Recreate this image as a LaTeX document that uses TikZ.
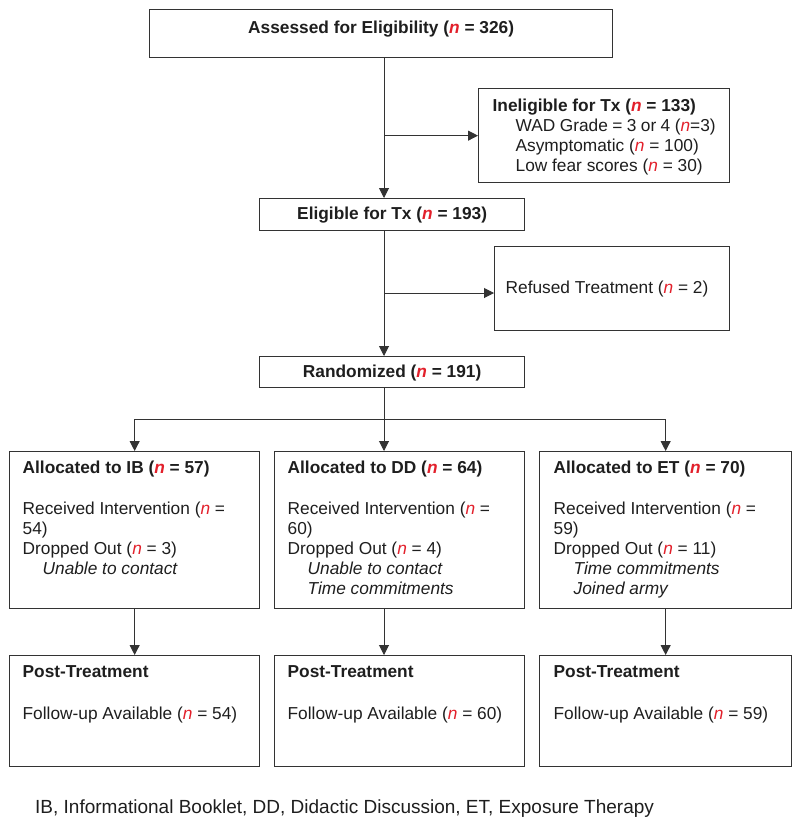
\documentclass[tikz,border=0pt]{standalone}
\usepackage{fontspec}
\setmainfont{Liberation Sans}
\usepackage{xcolor}
\usetikzlibrary{arrows.meta, positioning}

\definecolor{linegray}{HTML}{333333}
\definecolor{textgray}{HTML}{1E1E1E}
\definecolor{nred}{HTML}{E2202B}
\newcommand{\nn}{\textcolor{nred}{\textit{n}}}
% box text: width, height, gap above the first line, body
\newcommand{\boxbody}[4]{\begin{minipage}[c][#2][t]{#1}\vspace*{#3}#4\end{minipage}}

\tikzset{
  flowbox/.style={draw=linegray, line width=1.3pt, anchor=north west, inner ysep=0pt, text=textgray},
  flowarrow/.style={draw=linegray, line width=1pt, -{Triangle[length=10pt, width=10pt]}},
  flowline/.style={draw=linegray, line width=1pt}
}

\begin{document}
\begin{tikzpicture}[x=1pt, y=-1pt, font=\fontsize{17.3}{20}\selectfont]
  \useasboundingbox (0,0) rectangle (800,827);

  % screening
  \node[flowbox, inner xsep=10pt] (assessed) at (149,9)
    {\boxbody{443pt}{48pt}{11.7pt}{\centering\textbf{Assessed for Eligibility (\nn{} = 326)}}};
  \node[flowbox, inner xsep=14pt] (ineligible) at (478,88)
    {\boxbody{223pt}{94pt}{10.1pt}{\textbf{Ineligible for Tx (\nn{} = 133)}\\[0.7pt]
      \hspace*{23pt}WAD Grade = 3 or 4 (\nn{}=3)\\
      \hspace*{23pt}Asymptomatic (\nn{} = 100)\\
      \hspace*{23pt}Low fear scores (\nn{} = 30)}};
  \node[flowbox, inner xsep=10pt] (eligible) at (259,198)
    {\boxbody{245pt}{32pt}{8.7pt}{\centering\textbf{Eligible for Tx (\nn{} = 193)}}};
  \node[flowbox, inner xsep=11pt] (refused) at (494,246)
    {\boxbody{213pt}{84pt}{34.7pt}{Refused Treatment (\nn{} = 2)}};
  \node[flowbox, inner xsep=10pt] (randomized) at (259,356)
    {\boxbody{245pt}{31pt}{8.7pt}{\centering\textbf{Randomized (\nn{} = 191)}}};

  % allocation
  \node[flowbox, inner xsep=13pt] (allocIB) at (9,451)
    {\boxbody{224pt}{157pt}{9.7pt}{\textbf{Allocated to IB (\nn{} = 57)}\\[21pt]
      Received Intervention (\nn{} =\\ 54)\\
      Dropped Out (\nn{} = 3)\\
      \hspace*{20pt}\textit{Unable to contact}}};
  \node[flowbox, inner xsep=13pt] (allocDD) at (274,451)
    {\boxbody{224pt}{157pt}{9.7pt}{\textbf{Allocated to DD (\nn{} = 64)}\\[21pt]
      Received Intervention (\nn{} =\\ 60)\\
      Dropped Out (\nn{} = 4)\\
      \hspace*{20pt}\textit{Unable to contact}\\
      \hspace*{20pt}\textit{Time commitments}}};
  \node[flowbox, inner xsep=14pt] (allocET) at (539,451)
    {\boxbody{224pt}{157pt}{9.7pt}{\textbf{Allocated to ET (\nn{} = 70)}\\[21pt]
      Received Intervention (\nn{} =\\ 59)\\
      Dropped Out (\nn{} = 11)\\
      \hspace*{20pt}\textit{Time commitments}\\
      \hspace*{20pt}\textit{Joined army}}};

  % follow-up
  \node[flowbox, inner xsep=13pt] (postIB) at (9,655)
    {\boxbody{224pt}{111pt}{10.3pt}{\textbf{Post-Treatment}\\[21.6pt]Follow-up Available (\nn{} = 54)}};
  \node[flowbox, inner xsep=13pt] (postDD) at (274,655)
    {\boxbody{224pt}{111pt}{10.3pt}{\textbf{Post-Treatment}\\[21.6pt]Follow-up Available (\nn{} = 60)}};
  \node[flowbox, inner xsep=14pt] (postET) at (539,655)
    {\boxbody{224pt}{111pt}{10.3pt}{\textbf{Post-Treatment}\\[21.6pt]Follow-up Available (\nn{} = 59)}};

  \node[anchor=base west, inner sep=0pt, text=textgray, font=\fontsize{19}{22}\selectfont] (abbrev) at (35,813)
    {IB, Informational Booklet, DD, Didactic Discussion, ET, Exposure Therapy};

  % connectors
  \coordinate (spine) at (384,0);
  \coordinate (refjoin) at (384,293);
  \coordinate (split) at (384,419);
  \draw[flowarrow] (assessed.south -| spine) -- (eligible.north -| spine);
  \draw[flowarrow] (ineligible.west -| spine) -- (ineligible.west);
  \draw[flowarrow] (eligible.south -| spine) -- (randomized.north -| spine);
  \draw[flowarrow] (refjoin) -- (refjoin -| refused.west);
  \draw[flowline] (randomized.south -| spine) -- (split);
  \draw[flowline] (split -| allocIB.north) -- (split -| allocET.north);
  \draw[flowarrow] (split -| allocIB.north) -- (allocIB.north);
  \draw[flowarrow] (split) -- (allocDD.north -| spine);
  \draw[flowarrow] (split -| allocET.north) -- (allocET.north);
  \draw[flowarrow] (allocIB.south) -- (postIB.north);
  \draw[flowarrow] (allocDD.south -| spine) -- (postDD.north -| spine);
  \draw[flowarrow] (allocET.south) -- (postET.north);
\end{tikzpicture}
\end{document}
